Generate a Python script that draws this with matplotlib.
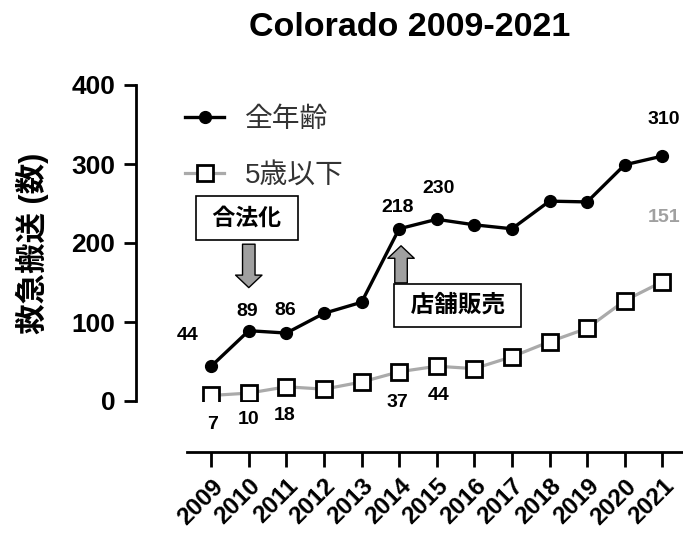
import matplotlib.pyplot as plt

plt.rcParams['font.family'] = ['Liberation Sans', 'Noto Sans CJK JP', 'DejaVu Sans']

years = [2009, 2010, 2011, 2012, 2013, 2014, 2015, 2016, 2017, 2018, 2019, 2020, 2021]
all_ages = [44, 89, 86, 111, 125, 218, 230, 223, 218, 253, 252, 299, 310]
under5 = [7, 10, 18, 15, 24, 37, 44, 41, 56, 75, 92, 127, 151]

# which points get a number printed next to them, with the offset in points
all_labels = {2009: (-17, 22), 2010: (-1, 14), 2011: (-1, 16), 2014: (-1, 15),
              2015: (1, 22), 2021: (1, 26)}
u5_labels = {2009: (1, -21), 2010: (0, -19), 2011: (-1, -21), 2014: (-1, -22),
             2015: (1, -21), 2021: (1, 46)}

fig = plt.figure(figsize=(6.83, 5.4), dpi=100)
ax = fig.add_axes([136 / 683, 1 - 401 / 540, 1 - 136 / 683, (401 - 85) / 540])

# spine placement first: moving a spine resets the tick settings
ax.spines['top'].set_visible(False)
ax.spines['right'].set_visible(False)
ax.spines['left'].set_linewidth(2)
ax.spines['bottom'].set_linewidth(2)
ax.spines['bottom'].set_position(('outward', 37))
ax.spines['bottom'].set_bounds(2008.35, 2021.55)

ax.plot(years, under5, color='#aaaaaa', lw=2.3, marker='s', ms=11,
        mfc='white', mec='black', mew=2, label='5歳以下', zorder=3)
ax.plot(years, all_ages, color='black', lw=2.4, marker='o', ms=8.5,
        label='全年齢', zorder=4)

for yr, (dx, dy) in all_labels.items():
    v = all_ages[years.index(yr)]
    ax.annotate(str(v), (yr, v), xytext=(dx, dy), textcoords='offset points',
                ha='center', va='center', fontsize=14, fontweight='bold')
for yr, (dx, dy) in u5_labels.items():
    v = under5[years.index(yr)]
    col = '#a0a0a0' if yr == 2021 else 'black'
    ax.annotate(str(v), (yr, v), xytext=(dx, dy), textcoords='offset points',
                ha='center', va='center', fontsize=14, fontweight='bold', color=col)

ax.set_xlim(2007.0, 2021.55)
ax.set_ylim(0, 400)
ax.set_yticks([0, 100, 200, 300, 400])
ax.set_xticks(years)
ax.set_xticklabels([str(y) for y in years], rotation=45, ha='right',
                   rotation_mode='anchor', fontsize=17.5, fontweight='bold')
for t in ax.get_yticklabels():
    t.set_fontweight('bold')
    t.set_fontsize(19)
ax.tick_params(axis='y', length=9, width=2, pad=6)
ax.tick_params(axis='x', length=11, width=2, pad=5)

ax.set_ylabel('救急搬送 (数)', fontsize=22, fontweight='bold', labelpad=16)

# event annotations
arrow_style = 'simple,head_width=1.9,head_length=0.9,tail_width=0.9'
ax.annotate('', xy=(2010, 140), xytext=(2010, 202),
            arrowprops=dict(arrowstyle=arrow_style, fc='#a0a0a0', ec='black', lw=1))
ax.text(2009.95, 232, ' 合法化 ', ha='center', va='center', fontsize=16.5, fontweight='bold',
        bbox=dict(boxstyle='square,pad=0.45', fc='white', ec='black', lw=1.2))
ax.annotate('', xy=(2014.05, 200), xytext=(2014.05, 146),
            arrowprops=dict(arrowstyle=arrow_style, fc='#a0a0a0', ec='black', lw=1))
ax.text(2015.55, 121, ' 店舗販売 ', ha='center', va='center', fontsize=17, fontweight='bold',
        bbox=dict(boxstyle='square,pad=0.42', fc='white', ec='black', lw=1.2))

handles, labels = ax.get_legend_handles_labels()
leg = ax.legend(handles[::-1], labels[::-1], loc='upper left',
                bbox_to_anchor=(174 / 683, 1 - 96 / 540), bbox_transform=fig.transFigure,
                frameon=False, fontsize=20, labelspacing=1.08, handlelength=1.4,
                handletextpad=0.75, borderaxespad=0)
for t in leg.get_texts():
    t.set_color('#333333')

fig.text(410 / 683, 1 - 27 / 540, 'Colorado 2009-2021', ha='center', va='center',
         fontsize=24.5, fontweight='bold')

fig.savefig('out.png', dpi=100)
